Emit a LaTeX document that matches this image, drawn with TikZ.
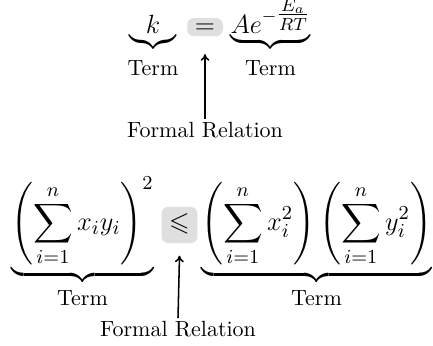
\documentclass[tikz,border=0pt]{standalone}
\usepackage{amsmath,amssymb}
\usetikzlibrary{arrows.meta}
\newcommand{\termlabel}[1][9.6pt]{\mbox{\normalsize\rule{0pt}{#1}Term}}
\begin{document}
\begin{tikzpicture}[x=0.4545pt,y=-0.4545pt,
  term/.style={anchor=base,inner sep=0pt,font=\large},
  bigterm/.style={anchor=base,inner sep=0pt,font=\fontsize{12.5}{15}\selectfont},
  relbox/.style={anchor=base,font=\large,fill=gray!25,rounded corners=3pt,inner xsep=3.5pt,inner ysep=1pt},
  label/.style={anchor=base,inner sep=0pt},
  pointer/.style={-{To[length=3pt,width=4pt]},line width=0.7pt}]
\useasboundingbox (0,0) rectangle (433,345);
% first relation
\node[term] (t1l) at (153,33.5) {$\underbrace{k}_{\termlabel}$};
\node[relbox,text height=5.8pt,text depth=0.4pt] (r1) at (205,33) {$=$};
\node[term] (t1r) at (270.5,33.5) {$\underbrace{Ae^{-\tfrac{E_a}{RT}}}_{\termlabel}$};
\node[label] (f1) at (205,137) {Formal Relation};
\draw[pointer] ([yshift=1pt]f1.north) -- ([yshift=-8pt]r1.south);
% second relation
\node[bigterm] (t2l) at (82.5,230.5) {$\displaystyle\underbrace{\left(\sum_{i=1}^n x_iy_i\right)^2}_{\termlabel[8.4pt]}$};
\node[relbox,text height=9.7pt,text depth=4.7pt] (r2) at (179.5,230.5) {$\leqslant$};
\node[bigterm] (t2r) at (316.5,230.5) {$\displaystyle\underbrace{\left(\sum_{i=1}^n x_i^2\right)\left(\sum_{i=1}^n y_i^2\right)}_{\termlabel[8.4pt]}$};
\node[label] (f2) at (178,336) {Formal Relation};
\draw[pointer] ([yshift=1pt]f2.north) -- ([yshift=-5.5pt]r2.south);
\end{tikzpicture}
\end{document}
